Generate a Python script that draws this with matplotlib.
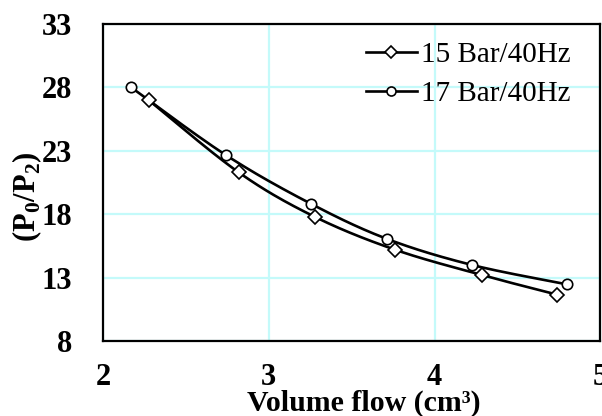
import numpy as np
import matplotlib
matplotlib.use("Agg")
import matplotlib.pyplot as plt

plt.rcParams.update({
    "font.family": ["Liberation Serif", "DejaVu Serif"],
    "font.size": 22,
    "mathtext.fontset": "custom",
    "mathtext.rm": "Liberation Serif",
    "mathtext.bf": "Liberation Serif:bold",
})

# measured points: volume flow vs pressure ratio
flow_15 = [2.275, 2.818, 3.276, 3.761, 4.286, 4.740]
ratio_15 = [27.0, 21.3, 17.8, 15.2, 13.2, 11.65]
flow_17 = [2.170, 2.740, 3.257, 3.715, 4.224, 4.797]
ratio_17 = [28.0, 22.67, 18.8, 16.04, 14.0, 12.47]

labels = ["15 Bar/40Hz", "17 Bar/40Hz"]
x_ticks = [2, 3, 4, 5]
y_ticks = [8, 13, 18, 23, 28, 33]


def smooth(xs, ys, n=30):
    # Catmull-Rom through the points, like a spreadsheet "smoothed line"
    p = np.column_stack([xs, ys]).astype(float)
    p = np.vstack([p[0], p, p[-1]])
    out = []
    t = np.linspace(0, 1, n)[:, None]
    for i in range(1, len(p) - 2):
        p0, p1, p2, p3 = p[i - 1], p[i], p[i + 1], p[i + 2]
        seg = 0.5 * ((2 * p1) + (-p0 + p2) * t
                     + (2 * p0 - 5 * p1 + 4 * p2 - p3) * t ** 2
                     + (-p0 + 3 * p1 - 3 * p2 + p3) * t ** 3)
        out.append(seg if i == 1 else seg[1:])
    out = np.vstack(out)
    return out[:, 0], out[:, 1]


fig = plt.figure(figsize=(6.02, 4.16), dpi=100)
ax = fig.add_axes([103 / 602, 1 - 341 / 416, 497.5 / 602, 317 / 416])

for xs, ys, mk, lab in [(flow_15, ratio_15, "D", labels[0]),
                        (flow_17, ratio_17, "o", labels[1])]:
    sx, sy = smooth(xs, ys)
    ax.plot(sx, sy, color="black", lw=1.9, zorder=3)
    ax.plot(xs, ys, ls="none", marker=mk, ms=7.5 if mk == "o" else 6.8,
            mfc="white", mec="black", mew=1.2, zorder=4)
    # legend proxy
    ax.plot([], [], color="black", lw=1.9, marker=mk, ms=6.5 if mk == "o" else 6.2,
            mfc="white", mec="black", mew=1.2, label=lab)

ax.set_xlim(2, 5)
ax.set_ylim(8, 33)
ax.set_xticks(x_ticks)
ax.set_yticks(y_ticks)
ax.grid(True, color="#c4fafa", lw=1.6, zorder=0)
ax.set_axisbelow(True)
ax.tick_params(axis="x", length=0, pad=16)
ax.tick_params(axis="y", length=0, pad=22)
for lab in ax.get_xticklabels() + ax.get_yticklabels():
    lab.set_fontweight("bold")
for s in ax.spines.values():
    s.set_linewidth(1.6)
    s.set_color("black")

ax.legend(loc="upper left", bbox_to_anchor=(0.505, 0.98), frameon=False,
          handlelength=1.75, handletextpad=0.15, labelspacing=0.42,
          borderaxespad=0, fontsize=21)

fig.text(364 / 602, 1 - 390 / 416, "Volume flow (cm\u00b3)", ha="center", va="top",
         fontweight="bold", fontsize=21.5)
fig.text(27 / 602, 1 - 197 / 416, r"(P$_\mathbf{0}$/P$_\mathbf{2}$)", rotation=90,
         ha="center", va="center", fontweight="bold", fontsize=22)

fig.savefig("out.png", dpi=100)
